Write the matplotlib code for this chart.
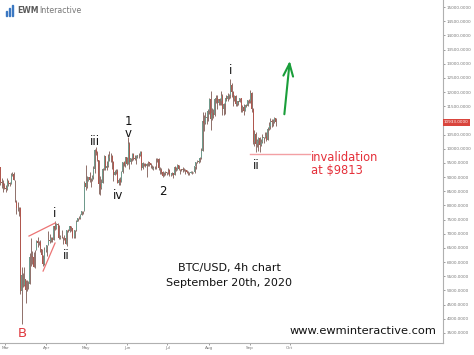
import datetime as dt
import matplotlib
matplotlib.use("Agg")
import matplotlib.pyplot as plt
import matplotlib.dates as mdates
import numpy as np

# BTC/USD daily OHLC, Feb 24 - Sep 20, 2020
start = dt.datetime(2020, 2, 24)
first_open = 9921
highs = [9951, 9652, 9366, 8976, 8890, 8775,
         8726, 8964, 8901, 8844, 9142, 9167, 9163, 8914, 8177, 8136, 7950, 7929, 5838, 5625, 5836, 5385,
         5371, 5331, 6329, 6844, 6378, 6359, 6443, 6789, 6892, 6735, 6793, 6467, 6250, 6517, 6504,
         6612, 7088, 7003, 6878, 6883, 7271, 7457, 7383, 7370, 7303, 6955, 7119, 6890, 6958, 6928,
         7134, 7167, 7269, 7264, 7220, 6934, 7145, 7491, 7573, 7641, 7700, 7795, 7815, 8871, 9440,
         9048, 9000, 9168, 8956, 9062, 9374, 9992, 10070, 9913, 9595, 9033, 8949, 9317, 9793, 9755,
         9564, 9823, 9906, 9836, 9769, 9555, 9264, 9302, 9288, 8951, 9004, 9203, 9546, 9573, 9704, 9700,
         10400, 10230, 9683, 9856, 9842, 9773, 9768, 9782, 9836, 9908, 9937, 9540, 9482, 9482, 9504,
         9579, 9540, 9482, 9440, 9394, 9401, 9680, 9670, 9680, 9340, 9310, 9207, 9187, 9224, 9197,
         9309, 9274, 9127, 9183, 9145, 9375, 9361, 9450, 9431, 9287, 9293, 9340, 9319, 9276, 9262,
         9214, 9183, 9218, 9226, 9191, 9407, 9543, 9610, 9637, 9704, 10023, 11298, 11204, 11304, 11169, 11415,
         11794, 12035, 11453, 11385, 11787, 11902, 11898, 11768, 11806, 12045, 11932, 11611, 11796, 11886, 11979,
         11933, 12470, 12335, 12028, 11879, 11880, 11685, 11696, 11807, 11778, 11530, 11570, 11545, 11595, 11715, 11768,
         12067, 12000, 11443, 10663, 10581, 10353, 10399, 10414, 10349, 10504, 10414, 10578, 10577, 10760, 10938,
         11100, 11037, 11034, 11134, 11095]
lows = [9537, 9305, 8704, 8613, 8475, 8577,
        8471, 8532, 8677, 8700, 8760, 9036, 8890, 8105, 7690, 7814, 7642, 4860, 3800, 5125, 5169, 4575,
        4981, 5069, 5236, 5865, 5932, 5823, 5785, 6411, 6536, 6590, 6374, 6070, 5869, 5903, 6374,
        6202, 6595, 6671, 6696, 6715, 6782, 7148, 7178, 7212, 6802, 6819, 6838, 6633, 6793, 6633,
        6555, 7050, 7079, 7089, 6835, 6834, 6867, 7081, 7434, 7521, 7531, 7679, 7710, 7786, 8533,
        8630, 8849, 8831, 8645, 8856, 8940, 9138, 9767, 9580, 8395, 8374, 8569, 8805, 9255, 9261,
        9260, 9349, 9570, 9539, 9286, 8869, 9070, 9118, 8787, 8719, 8719, 8834, 9148, 9379, 9366, 9432,
        9450, 9300, 9471, 9581, 9598, 9587, 9474, 9675, 9664, 9729, 9263, 9285, 9398, 9347, 8990,
        9391, 9390, 9328, 9274, 9247, 9300, 9296, 9547, 9264, 9095, 9101, 8998, 9024, 9086, 9087,
        9104, 9036, 9053, 9072, 8977, 9058, 9230, 9249, 9234, 9118, 9199, 9183, 9200, 9114, 9135,
        9088, 9089, 9133, 9124, 9137, 9149, 9286, 9483, 9496, 9530, 9652, 9903, 10632, 10861, 10860, 10987,
        11239, 10645, 11012, 11094, 11158, 11598, 11408, 11556, 11548, 11531, 11195, 11199, 11216, 11699, 11692,
        11763, 11806, 11822, 11525, 11681, 11512, 11496, 11557, 11632, 11298, 11296, 11185, 11316, 11466, 11492, 11598,
        11601, 11290, 10184, 10082, 9880, 10056, 9916, 9875, 10086, 10202, 10197, 10372, 10271, 10298, 10656,
        10713, 10774, 10814, 10909, 10787]
closes = [9650, 9342, 8820, 8784, 8672, 8599,
          8563, 8869, 8788, 8755, 9079, 9122, 8909, 8108, 7923, 7909, 7911, 4971, 5563, 5200, 5392, 5014,
          5225, 5238, 6191, 6198, 6185, 5830, 6416, 6735, 6681, 6716, 6469, 6243, 5922, 6429, 6438,
          6606, 6793, 6733, 6867, 6791, 7271, 7176, 7335, 7303, 6859, 6872, 6880, 6843, 6842, 6642,
          7117, 7096, 7257, 7189, 6881, 6880, 7118, 7429, 7551, 7569, 7679, 7795, 7807, 8801, 8659,
          8864, 8989, 8897, 8912, 9003, 9268, 9951, 9842, 9593, 8756, 8601, 8804, 9269, 9733, 9328,
          9377, 9671, 9727, 9730, 9522, 9082, 9183, 9209, 8790, 8906, 8835, 9181, 9525, 9439, 9700, 9461,
          10167, 9529, 9656, 9800, 9665, 9653, 9758, 9771, 9795, 9870, 9321, 9480, 9475, 9386, 9450,
          9538, 9480, 9411, 9288, 9332, 9303, 9648, 9629, 9313, 9264, 9162, 9045, 9143, 9191, 9138,
          9233, 9087, 9073, 9135, 9070, 9342, 9253, 9428, 9278, 9278, 9241, 9277, 9243, 9243, 9192,
          9132, 9151, 9159, 9185, 9164, 9374, 9525, 9581, 9536, 9677, 9905, 10990, 10912, 11100, 11111, 11323,
          11759, 11053, 11246, 11205, 11747, 11779, 11601, 11754, 11675, 11878, 11410, 11584, 11784, 11768, 11865,
          11892, 12254, 11991, 11758, 11878, 11592, 11681, 11664, 11774, 11366, 11489, 11323, 11542, 11506, 11712, 11680,
          11970, 11414, 10245, 10511, 10169, 10280, 10369, 10131, 10242, 10363, 10400, 10442, 10323, 10680, 10796,
          10974, 10948, 10944, 11094, 10933]
opens = [first_open] + closes[:-1]

last_price = 10933
invalidation = 9813
month_ticks = [dt.datetime(2020, m, 1) for m in range(3, 11)]
month_labels = ["Mar", "Apr", "May", "Jun", "Jul", "Aug", "Sep", "Oct"]
price_ticks = [p for p in range(3500, 15001, 500) if p != 11000]

base = mdates.date2num(dt.datetime(2020, 3, 1))
def d(day):
    # day offset from Mar 1 -> date number
    return base + day

fig = plt.figure(figsize=(4.74, 3.55), dpi=100)
ax = fig.add_axes([0, 12 / 355, 443 / 474, 343 / 355])

# candles
x = mdates.date2num(start) + np.arange(len(closes)) + 0.5
o = np.array(opens); c = np.array(closes)
up = c >= o
cols = np.where(up, "#6f9a8c", "#b0574e")
ax.vlines(x, lows, highs, colors="#7d5a52", lw=0.6, zorder=2)
body = np.maximum(np.abs(c - o), 15)
ax.bar(x, body, bottom=np.minimum(o, c), width=0.7, color=cols, lw=0, zorder=2)

ax.set_xlim(d(-3.8), d(329.3))
ax.set_ylim(3147, 15247)

# axes styling
for s in ["top", "left"]:
    ax.spines[s].set_visible(False)
for s in ["bottom", "right"]:
    ax.spines[s].set_color("#b0b0b0")
    ax.spines[s].set_linewidth(0.8)
ax.yaxis.tick_right()
ax.set_yticks(price_ticks)
ax.set_yticklabels([f"{p}.0000" for p in price_ticks])
ax.set_xticks(mdates.date2num(month_ticks))
ax.set_xticklabels(month_labels)
ax.tick_params(axis="both", labelsize=3.0, colors="#777777", length=1.5, width=0.5, pad=1.0)

# last price marker
ax.text(1.002, last_price, f"{last_price}.0000", transform=ax.get_yaxis_transform(),
        fontsize=3.0, color="white", va="center", ha="left", zorder=5, clip_on=False,
        bbox=dict(boxstyle="square,pad=0.3", fc="#d9453d", ec="none"))

# wave labels
lab = dict(fontsize=8.5, color="#111111", ha="center", va="center")
ax.text(d(12.8), 3497, "B", fontsize=9.5, color="#e03a40", ha="center", va="center")
ax.text(d(37.6), 7731, "i", **lab)
ax.text(d(45.9), 6249, "ii", **lab)
ax.text(d(67.7), 10272, "iii", **lab)
ax.text(d(85.0), 8366, "iv", **lab)
ax.text(d(92.5), 10977, "1", **lab)
ax.text(d(92.5), 10554, "v", **lab)
ax.text(d(118.8), 8507, "2", **lab)
ax.text(d(169.2), 12777, "i", **lab)
ax.text(d(188.7), 9425, "ii", **lab)

# leading diagonal lines
ax.plot([d(18.0), d(37.6)], [6920, 7379], color="#ec7474", lw=0.9, zorder=3)
ax.plot([d(28.6), d(37.6)], [5685, 6673], color="#ec7474", lw=0.9, zorder=3)

# invalidation level
ax.plot([d(184.2), d(229.3)], [invalidation, invalidation], color="#f3a0a4", lw=1.0, zorder=3)
ax.text(d(230.0), invalidation + 120, f"invalidation\nat ${invalidation}", fontsize=8.3,
        color="#e5303a", ha="left", va="top", linespacing=1.05)

# green arrow
ax.annotate("", xy=(d(214.3), 13200), xytext=(d(209.8), 11119),
            arrowprops=dict(arrowstyle="->,head_length=0.9,head_width=0.35",
                            color="#1a9e3a", lw=1.5))

# caption
ax.text(d(168.4), 5530, "BTC/USD, 4h chart\nSeptember 20th, 2020", fontsize=8,
        color="#111111", ha="center", va="center", linespacing=1.7)

# website
ax.text(0.985, 0.02, "www.ewminteractive.com", transform=ax.transAxes, fontsize=8.2,
        color="#111111", ha="right", va="bottom", zorder=6,
        bbox=dict(boxstyle="square,pad=0.3", fc="white", ec="none"))

# logo
for i, h in enumerate([0.014, 0.022, 0.03]):
    fig.patches.append(plt.Rectangle((0.012 + i * 0.007, 0.955), 0.0022, h,
                                     transform=fig.transFigure, color="#3b78c2"))
fig.text(0.036, 0.97, "EWM", fontsize=5.6, fontweight="bold", color="#5a5a5a", va="center")
fig.text(0.082, 0.97, "Interactive", fontsize=5.6, color="#777777", va="center")

fig.savefig("out.png", dpi=100)
